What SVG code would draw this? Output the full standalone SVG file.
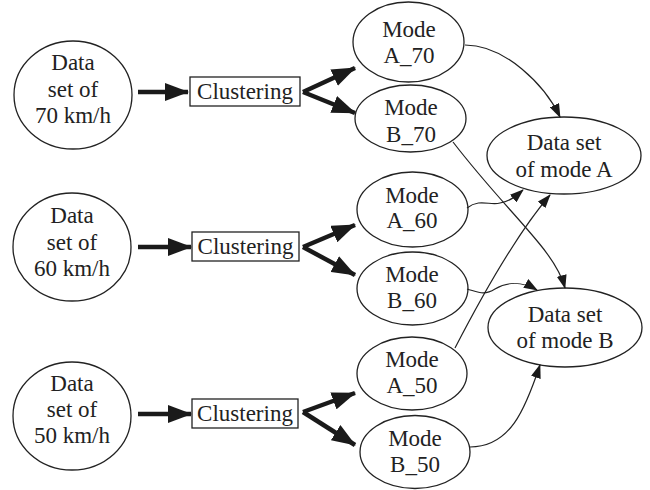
<svg xmlns="http://www.w3.org/2000/svg" width="650" height="490" viewBox="0 0 650 490" font-family="Liberation Serif, Times New Roman, serif">
<defs>
<style>
.n{fill:#fff;stroke:#222;stroke-width:1.3}
text{font-family:"Liberation Serif",serif;font-size:23px;fill:#222;text-anchor:middle}
.thick{fill:none;stroke:#1a1a1a;stroke-width:4.5}
.thin{fill:none;stroke:#222;stroke-width:1.2}
</style>
<marker id="big" markerUnits="userSpaceOnUse" markerWidth="24" markerHeight="18" refX="23" refY="9" orient="auto">
<path d="M0,0 L24,9 L0,18 z" fill="#1a1a1a"/>
</marker>
<marker id="sm" markerUnits="userSpaceOnUse" markerWidth="14" markerHeight="10" refX="13" refY="5" orient="auto">
<path d="M0,0 L14,5 L0,10 z" fill="#1a1a1a"/>
</marker>
</defs>
<rect width="650" height="490" fill="#fff"/>

<g id="d70"><ellipse class="n" cx="73" cy="95" rx="59" ry="54"/>
<text x="73" y="70">Data</text><text x="73" y="97">set of</text><text x="73" y="123">70 km/h</text></g>
<g id="d60"><ellipse class="n" cx="72" cy="247" rx="59" ry="54"/>
<text x="72" y="223">Data</text><text x="72" y="250">set of</text><text x="72" y="276">60 km/h</text></g>
<g id="d50"><ellipse class="n" cx="72" cy="416" rx="59" ry="54"/>
<text x="72" y="391">Data</text><text x="72" y="417">set of</text><text x="72" y="443">50 km/h</text></g>

<g id="c70"><rect class="n" x="190" y="77" width="110" height="29"/><text x="245" y="99">Clustering</text></g>
<g id="c60"><rect class="n" x="192" y="232" width="107" height="29"/><text x="245.5" y="254">Clustering</text></g>
<g id="c50"><rect class="n" x="192" y="399" width="106" height="29"/><text x="245" y="421">Clustering</text></g>

<g id="a70"><ellipse class="n" cx="408.5" cy="42" rx="55.5" ry="40"/>
<text x="409" y="37">Mode</text><text x="409" y="63">A_70</text></g>
<g id="b70"><ellipse class="n" cx="410.5" cy="118.5" rx="55.5" ry="33.5"/>
<text x="411" y="115">Mode</text><text x="411" y="142">B_70</text></g>
<g id="a60"><ellipse class="n" cx="412.5" cy="209.5" rx="55.5" ry="37.5"/>
<text x="412" y="203">Mode</text><text x="412" y="228">A_60</text></g>
<g id="b60"><ellipse class="n" cx="412.5" cy="288.5" rx="55.5" ry="36.5"/>
<text x="412" y="282">Mode</text><text x="412" y="308">B_60</text></g>
<g id="a50"><ellipse class="n" cx="412" cy="373.5" rx="55" ry="36.5"/>
<text x="412" y="367">Mode</text><text x="412" y="393">A_50</text></g>
<g id="b50"><ellipse class="n" cx="415" cy="452" rx="55" ry="36.5"/>
<text x="415" y="446">Mode</text><text x="415" y="472">B_50</text></g>

<g id="dA"><ellipse class="n" cx="564" cy="155.5" rx="77" ry="38.5"/>
<text x="564" y="150">Data set</text><text x="564" y="177">of mode A</text></g>
<g id="dB"><ellipse class="n" cx="565" cy="327.5" rx="77" ry="39.5"/>
<text x="565" y="322">Data set</text><text x="565" y="348">of mode B</text></g>

<g id="connectors">
<path class="thick" d="M138,92 L188,92" marker-end="url(#big)"/>
<path class="thick" d="M138,247 L191,247" marker-end="url(#big)"/>
<path class="thick" d="M138,414 L191,414" marker-end="url(#big)"/>
<path class="thick" d="M303,92 L355,68" marker-end="url(#big)"/>
<path class="thick" d="M303,92 L355,113" marker-end="url(#big)"/>
<path class="thick" d="M303,247 L355,225" marker-end="url(#big)"/>
<path class="thick" d="M303,247 L355,275" marker-end="url(#big)"/>
<path class="thick" d="M303,412 L355,393" marker-end="url(#big)"/>
<path class="thick" d="M303,412 L355,445" marker-end="url(#big)"/>

<path class="thin" d="M465,45 C505,45 545,85 560,117" marker-end="url(#sm)"/>
<path class="thin" d="M453,142 C510,216 555,250 565,288" marker-end="url(#sm)"/>
<path class="thin" d="M467,208 C480,198 490,206 500,203 C510,201 515,197 523,190" marker-end="url(#sm)"/>
<path class="thin" d="M455,348 C485,290 520,230 550,195" marker-end="url(#sm)"/>
<path class="thin" d="M467,289 C478,292 484,296 495,289 C505,283 520,280 537,290" marker-end="url(#sm)"/>
<path class="thin" d="M470,447 C510,447 525,410 540,365" marker-end="url(#sm)"/>
</g>
</svg>
